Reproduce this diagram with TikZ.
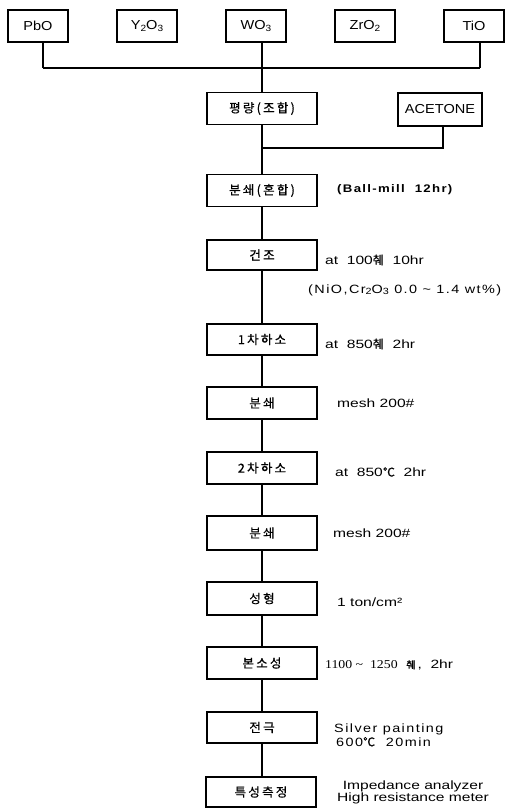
\documentclass[tikz,border=0pt]{standalone}
\usepackage{fontspec}
\setmainfont{Liberation Sans}
\newfontfamily\kr[LetterSpace=18,FakeBold=0.8]{Noto Sans CJK KR}
\newfontfamily\krp[FakeBold=0.8]{Noto Sans CJK KR}
\newfontfamily\lab[FakeStretch=1.3]{Liberation Sans}
\newfontfamily\labsp[FakeStretch=1.2,LetterSpace=12]{Liberation Sans}
\newfontfamily\boxf[FakeStretch=1.12]{Liberation Sans}
\newfontfamily\serifnum[FakeStretch=1.15]{Liberation Serif}
\newcommand{\sbs}[1]{\raisebox{-0.25ex}{\fontsize{9}{9}\selectfont #1}}
\begin{document}
\begin{tikzpicture}[x=1pt,y=-1pt,
  box/.style={draw,line width=1.1pt,minimum width=110pt,minimum height=32pt,inner sep=0pt,font=\fontsize{12.5}{13}\selectfont\kr},
  topbox/.style={draw,line width=1.1pt,minimum width=60pt,minimum height=32pt,inner sep=0pt,font=\fontsize{13}{14}\selectfont\boxf},
  lbl/.style={anchor=west,inner sep=0pt,font=\fontsize{12}{14}\selectfont\lab},
  conn/.style={line width=1.1pt}]
\useasboundingbox (0,0) rectangle (515,810);
% top raw materials
\node[topbox] (pbo) at (38,26) {PbO};
\node[topbox] (yo) at (147,26) {Y\sbs{2}O\sbs{3}};
\node[topbox] (wo) at (256,26) {WO\sbs{3}};
\node[topbox] (zro) at (365,26) {ZrO\sbs{2}};
\node[topbox] (tio) at (474,26) {TiO};
% process boxes
\node[box] (pr) at (262,108.5) {평량(조합)};
\node[topbox,minimum width=84pt,minimum height=33pt] (ace) at (440,109.5) {ACETONE};
\node[box] (mix) at (262,190.5) {분쇄(혼합)};
\node[box,minimum height=30pt] (dry) at (262,255) {건조};
\node[box,minimum height=31pt] (c1) at (262,339.5) {1차하소};
\node[box] (g1) at (262,403) {분쇄};
\node[box] (c2) at (262,468) {2차하소};
\node[box,minimum height=34pt] (g2) at (262,533) {분쇄};
\node[box,minimum height=33pt] (form) at (262,598.5) {성형};
\node[box] (sint) at (262,663) {본소성};
\node[box,minimum height=31pt] (elec) at (262,727.5) {전극};
\node[box,minimum height=30pt] (meas) at (261,792) {특성측정};
% labels
\node[lbl,font=\fontsize{11}{12}\selectfont\labsp\bfseries] (lmix) at (337,190) {(Ball-mill\ \ 12hr)};
\node[lbl] (ldry) at (325,260) {at\ \ 100{\krp 췌}\ \ 10hr};
\node[lbl,font=\fontsize{12}{14}\selectfont\labsp] (ladd) at (308,290) {(NiO,Cr\sbs{2}O\sbs{3} 0.0 \textasciitilde\ 1.4 wt\%)};
\node[lbl] (lc1) at (325,344) {at\ \ 850{\krp 췌}\ \ 2hr};
\node[lbl] (lg1) at (337,403) {mesh 200\#};
\node[lbl] (lc2) at (335,472) {at\ \ 850{\krp ℃}\ \ 2hr};
\node[lbl] (lg2) at (333,533) {mesh 200\#};
\node[lbl] (lform) at (337,602) {1 ton/cm²};
\node[lbl] (lsint) at (325,665) {{\serifnum 1100 \textasciitilde\ \ 1250}\ \ {\krp\fontsize{10}{10}\selectfont 췌}\,,\ \ 2hr};
\node[lbl,font=\fontsize{12}{14}\selectfont\labsp,align=left] (lelec) at (334,735) {Silver\ painting\\ \,600{\krp ℃}\ \ 20min};
\node[anchor=center,inner sep=0pt,align=center,font=\fontsize{12}{12}\selectfont\lab] (lmeas) at (413,792) {Impedance analyzer\\High resistance meter};
% connectors
\coordinate (busL) at (43,68);
\coordinate (busR) at (480,68);
\coordinate (busC) at (262,68);
\coordinate (aceJ) at (262,148);
\draw[conn] (busL) -- (busR);
\draw[conn] ([xshift=5pt]pbo.south) -- (busL);
\draw[conn] ([xshift=6pt]yo.south) -- (yo.south -| 153,68);
\draw[conn] ([xshift=6pt]wo.south) -- (busC);
\draw[conn] ([xshift=6pt]zro.south) -- (zro.south -| 371,68);
\draw[conn] ([xshift=6pt]tio.south) -- (busR);
\draw[conn] (busC) -- (pr.north);
\draw[conn] ([xshift=3pt]ace.south) |- (aceJ);
\draw[conn] (pr) -- (mix);
\draw[conn] (mix) -- (dry);
\draw[conn] (dry) -- (c1);
\draw[conn] (c1) -- (g1);
\draw[conn] (g1) -- (c2);
\draw[conn] (c2) -- (g2);
\draw[conn] (g2) -- (form);
\draw[conn] (form) -- (sint);
\draw[conn] (sint) -- (elec);
\draw[conn] (elec.south) -- (elec.south |- meas.north);
\end{tikzpicture}
\end{document}
